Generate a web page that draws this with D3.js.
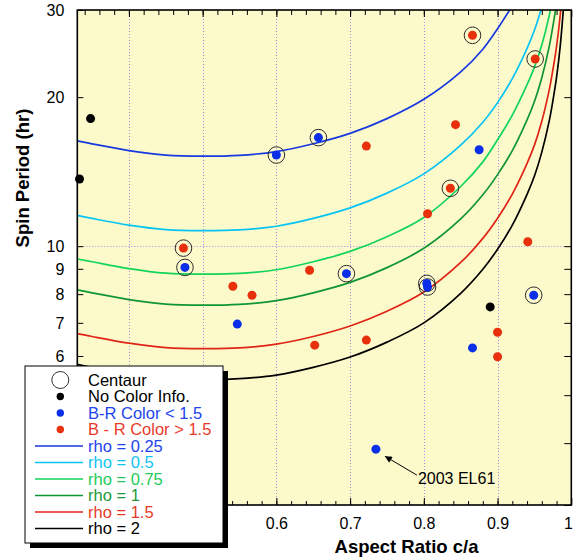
<!DOCTYPE html>
<html>
<head>
<meta charset="utf-8">
<script src="https://cdn.jsdelivr.net/npm/d3@7"></script>
<style>
  body { margin: 0; background: #ffffff; }
  svg text { font-family: "Liberation Sans", Arial, Helvetica, sans-serif; }
</style>
</head>
<body>
<svg id="chart" width="573" height="559"></svg>
<script>
// Aspect ratios at which the equilibrium spin-period curves are sampled
const curveRatios = [0.33, 0.35, 0.40, 0.45, 0.50, 0.55, 0.60, 0.65, 0.70, 0.75, 0.80, 0.85, 0.88, 0.90, 0.92, 0.94, 0.95, 0.96, 0.97, 0.975, 0.98, 0.985, 0.99];

// Spin period (hr) along each density curve (g/cm^3)
const periodRho025 = [16.32, 16.10, 15.60, 15.28, 15.20, 15.26, 15.52, 16.10, 16.90, 18.10, 19.80, 22.50, 25.00, 27.50, 30.60];
const periodRho05  = [11.54, 11.38, 11.03, 10.80, 10.75, 10.79, 10.97, 11.38, 11.95, 12.80, 14.00, 16.00, 17.80, 19.50, 21.80, 25.10, 27.30, 30.40];
const periodRho075 = [9.42, 9.30, 9.01, 8.82, 8.78, 8.81, 8.96, 9.30, 9.76, 10.45, 11.43, 13.20, 14.80, 16.40, 18.40, 21.20, 23.00, 25.50, 29.20, 32.00];
const periodRho1   = [8.16, 8.05, 7.80, 7.64, 7.60, 7.63, 7.76, 8.05, 8.45, 9.05, 9.90, 11.35, 12.70, 13.95, 15.60, 18.00, 19.60, 21.90, 25.30, 27.80, 31.00, 35.90];
const periodRho15  = [6.66, 6.57, 6.37, 6.24, 6.21, 6.23, 6.34, 6.57, 6.90, 7.39, 8.08, 9.27, 10.37, 11.39, 12.74, 14.70, 16.00, 17.88, 20.66, 22.70, 25.31, 29.31, 35.93];
const periodRho2   = [5.77, 5.69, 5.52, 5.40, 5.37, 5.40, 5.49, 5.69, 5.97, 6.40, 7.00, 8.03, 8.98, 9.86, 11.03, 12.73, 13.86, 15.49, 17.89, 19.66, 21.92, 25.38, 31.11];

const densityLabels = ["rho = 0.25", "rho = 0.5", "rho = 0.75", "rho = 1", "rho = 1.5", "rho = 2"];

// Objects: [aspect ratio c/a, spin period (hr), centaur flag]
const noColorObjects = [[0.348, 18.10, 0], [0.333, 13.67, 0], [0.890, 7.54, 0]];
const blueObjects = [
  [0.600, 15.28, 1], [0.657, 16.57, 1], [0.476, 9.06, 1], [0.547, 6.96, 0],
  [0.695, 8.80, 1], [0.804, 8.41, 1], [0.805, 8.27, 1], [0.949, 7.96, 1],
  [0.875, 15.66, 0], [0.866, 6.23, 0], [0.735, 3.89, 0]
];
const redObjects = [
  [0.866, 26.67, 1], [0.951, 23.89, 1], [0.722, 15.93, 0], [0.843, 17.60, 0],
  [0.836, 13.09, 1], [0.474, 9.91, 1], [0.541, 8.30, 0], [0.567, 7.96, 0],
  [0.645, 8.94, 0], [0.652, 6.31, 0], [0.805, 11.63, 0], [0.941, 10.21, 0],
  [0.900, 6.70, 0], [0.900, 5.98, 0], [0.722, 6.46, 0]
];

// Labelled object
const annotatedName = "2003 EL61";
const annotatedObject = [0.735, 3.89];

// Axis ticks (labels only where the legend leaves room)
const xMajorTicks = [0.4, 0.5, 0.6, 0.7, 0.8, 0.9, 1.0];
const xLabelledTicks = [0.6, 0.7, 0.8, 0.9];
const xEndLabel = "1";
const xMinorTicks = d3.range(34, 100, 2).map(v => v / 100);
const yTicks = [3, 4, 5, 6, 7, 8, 9, 10, 20, 30];
const yLabelledTicks = [6, 7, 8, 9, 10, 20, 30];
const xGridValues = [0.4, 0.5, 0.6, 0.7, 0.8, 0.9];
const yGridValues = [10];

const legendLabels = ["Centaur", "No Color Info.", "B-R Color < 1.5", "B - R Color > 1.5"];

// ---------------------------------------------------------------------------
const svg = d3.select("#chart");
const plotLeft = 77.3, plotRight = 571.3, plotTop = 10, plotBottom = 505;

const x = d3.scaleLinear().domain([0.33, 1.0]).range([plotLeft, plotRight]);
const y = d3.scaleLog().domain([3, 30]).range([plotBottom, plotTop]);

const BLUE = "#0b2fe8", RED = "#e8300c";
const curveColors = ["#1838e0", "#08c4f4", "#12d45a", "#0f9632", "#e02416", "#000000"];
const legendTextColors = ["#2244ee", "#12c2f2", "#22cc5a", "#1a9a38", "#e83a2a", "#000000"];

// plot background
svg.append("rect")
  .attr("x", plotLeft).attr("y", plotTop)
  .attr("width", plotRight - plotLeft).attr("height", plotBottom - plotTop)
  .attr("fill", "#fcfacb");

svg.append("clipPath").attr("id", "plot-clip")
  .append("rect")
  .attr("x", plotLeft).attr("y", plotTop)
  .attr("width", plotRight - plotLeft).attr("height", plotBottom - plotTop);

// dotted grid
const grid = svg.append("g").attr("stroke", "#a88ee8").attr("stroke-width", 1).attr("stroke-dasharray", "1,2");
grid.selectAll("line.vx").data(xGridValues).join("line")
  .attr("x1", d => Math.round(x(d)) + 0.5).attr("x2", d => Math.round(x(d)) + 0.5)
  .attr("y1", plotTop).attr("y2", plotBottom);
grid.selectAll("line.hy").data(yGridValues).join("line")
  .attr("x1", plotLeft).attr("x2", plotRight)
  .attr("y1", d => Math.round(y(d)) + 0.5).attr("y2", d => Math.round(y(d)) + 0.5);

// density curves
const curveSeries = [periodRho025, periodRho05, periodRho075, periodRho1, periodRho15, periodRho2];
const line = d3.line()
  .x(d => x(d[0]))
  .y(d => y(d[1]))
  .curve(d3.curveCatmullRom.alpha(0.5));

svg.append("g").attr("clip-path", "url(#plot-clip)")
  .selectAll("path")
  .data(curveSeries)
  .join("path")
  .attr("d", s => line(d3.zip(curveRatios, s)))
  .attr("fill", "none")
  .attr("stroke", (s, i) => curveColors[i])
  .attr("stroke-width", 1.7);

// axes (ticks point inward)
const fontSize = 16;
const bottomTicks = d3.axisBottom(x).tickValues(xMajorTicks).tickFormat("").tickSize(-7);
svg.append("g").attr("transform", `translate(0,${plotBottom})`).call(bottomTicks);
const bottomLabels = d3.axisBottom(x).tickValues(xLabelledTicks).tickFormat(d3.format(".1f")).tickSize(0).tickPadding(13);
svg.append("g").attr("class", "labels").attr("transform", `translate(0,${plotBottom})`).call(bottomLabels);
const bottomMinor = d3.axisBottom(x).tickValues(xMinorTicks).tickFormat("").tickSize(-4);
svg.append("g").attr("transform", `translate(0,${plotBottom})`).call(bottomMinor);

const topAxis = d3.axisTop(x).tickValues(xMajorTicks).tickFormat("").tickSize(-7);
svg.append("g").attr("transform", `translate(0,${plotTop})`).call(topAxis);
const topMinor = d3.axisTop(x).tickValues(xMinorTicks).tickFormat("").tickSize(-5);
svg.append("g").attr("transform", `translate(0,${plotTop})`).call(topMinor);

const leftTicks = d3.axisLeft(y).tickValues(yTicks).tickFormat("").tickSize(-6);
svg.append("g").attr("transform", `translate(${plotLeft},0)`).call(leftTicks);
const leftLabels = d3.axisLeft(y).tickValues(yLabelledTicks).tickFormat(d3.format("d")).tickSize(0).tickPadding(13);
const gL = svg.append("g").attr("class", "labels").attr("transform", `translate(${plotLeft},0)`).call(leftLabels);
const rightAxis = d3.axisRight(y).tickValues(yTicks).tickFormat("").tickSize(-7);
svg.append("g").attr("transform", `translate(${plotRight},0)`).call(rightAxis);

svg.selectAll(".domain").remove();
svg.selectAll(".tick line").attr("stroke", "#000").attr("stroke-width", 1);
svg.selectAll(".labels .tick line").remove();
svg.selectAll(".tick text").attr("font-size", fontSize).attr("fill", "#000")
  .style("font-family", "'Liberation Sans', Arial, Helvetica, sans-serif");
gL.selectAll(".tick text").attr("dy", "0.36em");

// label for the last major tick, kept inside the page edge
svg.append("text")
  .attr("x", 573).attr("y", plotBottom + 13).attr("dy", "0.71em")
  .attr("text-anchor", "end").attr("font-size", fontSize)
  .text(xEndLabel);

// frame
svg.append("rect")
  .attr("x", plotLeft).attr("y", plotTop)
  .attr("width", plotRight - plotLeft).attr("height", plotBottom - plotTop)
  .attr("fill", "none").attr("stroke", "#000").attr("stroke-width", 1.6);

// objects
function drawObjects(data, color) {
  const g = svg.append("g");
  g.selectAll("circle.ring").data(data.filter(d => d[2])).join("circle")
    .attr("class", "ring")
    .attr("cx", d => x(d[0])).attr("cy", d => y(d[1])).attr("r", 8.3)
    .attr("fill", "none").attr("stroke", "#2a2a2a").attr("stroke-width", 1);
  g.selectAll("circle.dot").data(data).join("circle")
    .attr("class", "dot")
    .attr("cx", d => x(d[0])).attr("cy", d => y(d[1])).attr("r", 4.5)
    .attr("fill", color);
}
drawObjects(noColorObjects, "#000000");
drawObjects(blueObjects, BLUE);
drawObjects(redObjects, RED);

// annotation arrow
svg.append("defs").append("marker")
  .attr("id", "arrowhead").attr("viewBox", "0 0 10 10")
  .attr("refX", 10).attr("refY", 5)
  .attr("markerWidth", 10).attr("markerHeight", 7)
  .attr("markerUnits", "userSpaceOnUse")
  .attr("orient", "auto")
  .append("path").attr("d", "M0,0 L10,5 L0,10 Z").attr("fill", "#000");

const ax = x(annotatedObject[0]), ay = y(annotatedObject[1]);
svg.append("line")
  .attr("x1", ax + 41).attr("y1", ay + 26)
  .attr("x2", ax + 9).attr("y2", ay + 7)
  .attr("stroke", "#000").attr("stroke-width", 1)
  .attr("marker-end", "url(#arrowhead)");
svg.append("text")
  .attr("x", ax + 42).attr("y", ay + 34.5)
  .attr("font-size", 16).attr("fill", "#000")
  .text(annotatedName);

// legend
const lg = svg.append("g");
const lx = 25, ly = 366, lw = 198, lh = 177;
lg.append("rect").attr("x", lx + 5).attr("y", ly + 5).attr("width", lw).attr("height", lh).attr("fill", "#000");
lg.append("rect").attr("x", lx).attr("y", ly).attr("width", lw).attr("height", lh)
  .attr("fill", "#fff").attr("stroke", "#000").attr("stroke-width", 1);

const rowY = i => 380 + i * 16.5;
const symX = 60.3, textX = 88, legendFont = 16.5;
lg.append("circle").attr("cx", symX).attr("cy", rowY(0)).attr("r", 8.5)
  .attr("fill", "#fff").attr("stroke", "#333").attr("stroke-width", 1);
lg.append("circle").attr("cx", symX).attr("cy", rowY(1)).attr("r", 3.7).attr("fill", "#000");
lg.append("circle").attr("cx", symX).attr("cy", rowY(2)).attr("r", 3.7).attr("fill", BLUE);
lg.append("circle").attr("cx", symX).attr("cy", rowY(3)).attr("r", 3.7).attr("fill", RED);

const symbolTextColors = ["#000000", "#000000", "#2244ee", "#e83a2a"];
lg.selectAll("text.sym").data(legendLabels).join("text")
  .attr("class", "sym")
  .attr("x", textX).attr("y", (d, i) => rowY(i)).attr("dy", "0.36em")
  .attr("font-size", legendFont).attr("fill", (d, i) => symbolTextColors[i])
  .text(d => d);

lg.selectAll("line.curve").data(densityLabels).join("line")
  .attr("class", "curve")
  .attr("x1", 35).attr("x2", 83)
  .attr("y1", (d, i) => rowY(i + 4)).attr("y2", (d, i) => rowY(i + 4))
  .attr("stroke", (d, i) => curveColors[i]).attr("stroke-width", 1.7);
lg.selectAll("text.curve").data(densityLabels).join("text")
  .attr("class", "curve")
  .attr("x", textX).attr("y", (d, i) => rowY(i + 4)).attr("dy", "0.36em")
  .attr("font-size", legendFont).attr("fill", (d, i) => legendTextColors[i])
  .text(d => d);

// axis titles
svg.append("text")
  .attr("x", 406.5).attr("y", 552.5)
  .attr("text-anchor", "middle").attr("font-size", 18.5).attr("font-weight", "bold")
  .text("Aspect Ratio c/a");
svg.append("text")
  .attr("transform", "translate(23,178) rotate(-90)")
  .attr("text-anchor", "middle").attr("dy", "0.35em")
  .attr("font-size", 18.5).attr("font-weight", "bold")
  .text("Spin Period (hr)");
</script>
</body>
</html>
